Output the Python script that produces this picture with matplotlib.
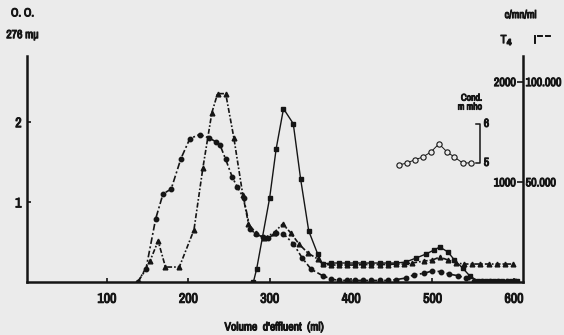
import matplotlib.pyplot as plt
from matplotlib import font_manager, patheffects
from matplotlib.text import Text

# pick a narrow face if one is installed
fonts = font_manager.fontManager.ttflist
narrow = next((f for f in fonts if 'Narrow' in f.name), None)
if narrow is None:
    narrow = next((f for f in fonts if 'Condensed' in f.name
                   or f.stretch in ('condensed', 'semi-condensed')), None)

if narrow is not None:
    plt.rcParams['font.family'] = [narrow.name, 'DejaVu Sans']
    plt.rcParams['font.stretch'] = narrow.stretch
else:
    plt.rcParams['font.family'] = ['DejaVu Sans']
plt.rcParams['font.weight'] = 'bold'

INK = '#151515'
PAPER = '#ebebeb'

# optical density at 276 mu (left scale)
od_vol = [138, 148, 160, 169, 179, 191, 202, 214, 225, 234, 239, 246, 254, 260,
          268, 276, 283, 292, 298, 308, 317, 329, 340, 351, 365, 375, 385, 395,
          405, 415, 425, 435, 445, 455, 467, 477, 490, 500, 510, 520, 531, 541,
          551, 561, 571, 581, 591, 601]
od_val = [0.0, 0.16, 0.79, 1.10, 1.16, 1.54, 1.79, 1.84, 1.80, 1.75, 1.71, 1.53,
          1.31, 1.19, 1.05, 0.66, 0.60, 0.56, 0.55, 0.61, 0.60, 0.48, 0.30, 0.16,
          0.08, 0.04, 0.02, 0.02, 0.02, 0.02, 0.02, 0.02, 0.02, 0.03, 0.05, 0.09,
          0.11, 0.14, 0.13, 0.10, 0.08, 0.05, 0.01, 0.01, 0.01, 0.01, 0.01, 0.01]

# T4 activity, c/mn/ml
t4_vol = [138, 153, 163, 172, 189, 207, 218, 229, 236, 246, 256, 267, 274, 283,
          293, 305, 316, 326, 336, 347, 359, 365, 375, 385, 395, 405, 415, 425,
          435, 445, 455, 465, 475, 490, 500, 509, 519, 529, 539, 549, 559, 569,
          579, 589, 599]
t4_val = [0, 210, 410, 150, 150, 520, 1140, 1690, 1880, 1880, 1440, 870, 580, 490,
          440, 490, 580, 490, 380, 290, 230, 180, 170, 170, 170, 170, 175, 175,
          175, 175, 180, 180, 190, 210, 220, 250, 220, 190, 180, 180, 180, 180,
          180, 180, 180]

# iodide activity, c/mn/ml
i_vol = [280, 284, 300, 308, 317, 329, 338, 348, 359, 365, 375, 385, 395, 405,
         415, 425, 435, 445, 455, 467, 480, 492, 502, 509, 519, 527, 537, 546,
         556, 566, 576, 586, 596, 604]
i_val = [0, 6500, 42000, 66500, 86500, 79000, 51500, 25500, 14000, 9000, 9500,
         9500, 9500, 9500, 9500, 9500, 9500, 9500, 9500, 10000, 12000, 14000,
         16000, 17500, 15000, 11000, 7000, 3000, 500, 500, 500, 500, 500, 500]

# conductivity, m mho
cond_vol = [459, 469, 478, 488, 498, 508, 518, 527, 537, 547]
cond_val = [4.95, 5.0, 5.08, 5.15, 5.28, 5.49, 5.28, 5.15, 5.0, 5.0]

x_ticks = [100, 200, 300, 400, 500, 600]

fig = plt.figure(figsize=(5.64, 3.35), dpi=100, facecolor=PAPER)
ax = fig.add_axes([0.048, 0.158, 0.879, 0.675])
ax.set_facecolor('none')
ax2 = ax.twinx()
ax3 = ax.twinx()
ax4 = ax.twinx()

ax.set_xlim(2, 611)
ax.set_ylim(0, 2.82)
ax2.set_ylim(0, 2256)
ax3.set_ylim(0, 112800)
ax4.set_ylim(1.95, 7.74)

for a in (ax, ax2, ax3, ax4):
    for s in a.spines.values():
        s.set_visible(False)

ax.spines['left'].set_visible(True)
ax.spines['bottom'].set_visible(True)
for s in ('left', 'bottom'):
    ax.spines[s].set_linewidth(1.8)
    ax.spines[s].set_color(INK)

# T4 scale sits on the right spine, labels inside
ax2.yaxis.set_ticks_position('left')
ax2.spines['left'].set_position(('axes', 1.0))
ax2.spines['left'].set_visible(True)
ax2.spines['left'].set_linewidth(1.8)
ax2.spines['left'].set_color(INK)
ax2.set_yticks([1000, 2000])
ax2.tick_params(axis='y', direction='out', length=4, width=1.2, color=INK,
                labelsize=8.7, pad=1, labelcolor=INK)

ax3.set_yticks([50000, 100000])
ax3.set_yticklabels(['50.000', '100.000'])
ax3.tick_params(axis='y', length=0, labelsize=8.7, pad=2, labelcolor=INK)
ax4.set_yticks([])

ax.set_xticks(x_ticks)
ax.set_yticks([1, 2])
ax.tick_params(axis='both', direction='in', length=3, width=1.2, color=INK,
               labelsize=10, labelcolor=INK)
ax.tick_params(axis='x', pad=7)
ax.tick_params(axis='y', pad=4)

ax.set_xlabel("Volume  d'effluent  (ml)", fontsize=8.5, labelpad=12, color=INK)

# elution curves
ax.plot(od_vol, od_val, color=INK, lw=1.2, ls=(0, (4, 1.5, 1.2, 1.5)),
        marker='o', ms=3.2, mec=INK, mfc=INK)
ax2.plot(t4_vol, t4_val, color=INK, lw=1.2, ls=(0, (3, 1.2, 1, 1.2)),
         marker='^', ms=3.4, mec=INK, mfc=INK)
ax3.plot(i_vol, i_val, color=INK, lw=1.0, ls='-',
         marker='s', ms=2.8, mec=INK, mfc=INK)
ax4.plot(cond_vol, cond_val, color=INK, lw=0.7, marker='o', ms=3.8,
         mec=INK, mfc=PAPER, mew=0.8)

# small conductivity scale bar
ax4.plot([553, 559, 559, 553], [6, 6, 5, 5], color=INK, lw=1.1)
ax4.text(563, 6, '6', fontsize=8.5, va='center', ha='left', color=INK)
ax4.text(563, 5, '5', fontsize=8.5, va='center', ha='left', color=INK)
ax4.text(548, 6.66, 'Cond.', fontsize=7, ha='center', va='center', color=INK)
ax4.text(546, 6.43, 'm mho', fontsize=7, ha='center', va='center', color=INK)

# axis headings
fig.text(0.040, 0.960, 'O. O.', fontsize=8.5, ha='center', va='center', color=INK)
fig.text(0.040, 0.895, '276 m\u03bc', fontsize=8.5, ha='center', va='center', color=INK)
fig.text(0.923, 0.955, 'c/mn/ml', fontsize=8, ha='center', va='center', color=INK)
fig.text(0.899, 0.880, 'T$_4$', fontsize=8.5, ha='center', va='center', color=INK)
fig.text(0.962, 0.885, 'I$^{--}$', fontsize=8.5, ha='center', va='center', color=INK)

# heavy lettering
for t in fig.findobj(Text):
    t.set_path_effects([patheffects.withStroke(linewidth=0.7, foreground=INK)])

plt.savefig('out.png', dpi=100, facecolor=PAPER)
